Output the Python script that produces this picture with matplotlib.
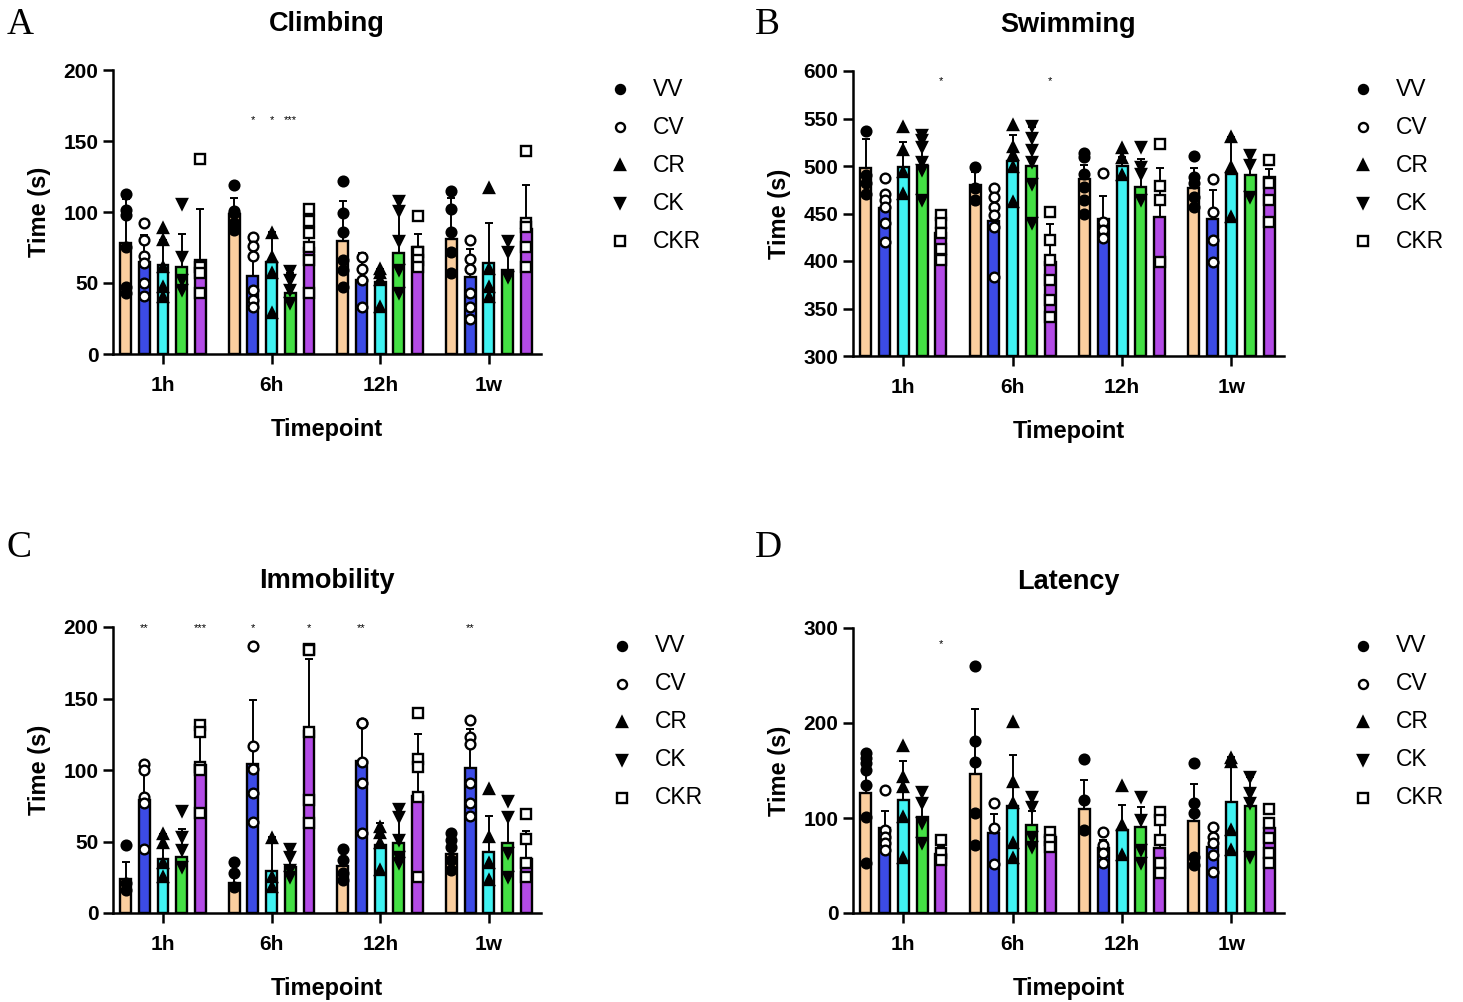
import numpy as np
import matplotlib
matplotlib.use("Agg")
import matplotlib.pyplot as plt
from matplotlib.lines import Line2D

plt.rcParams['font.family'] = ['Liberation Sans', 'DejaVu Sans']

timepoints = ['1h', '6h', '12h', '1w']
groups = ['VV', 'CV', 'CR', 'CK', 'CKR']
colors = ['#FACE9E', '#3C4BE6', '#40F2F2', '#44E044', '#B34BE6']
markers = ['o', 'o', '^', 'v', 's']
filled = [True, False, True, True, False]

# ---- Climbing ----
climb_mean = [[78, 64.5, 63, 61, 66], [98.6, 55, 64.5, 43, 75],
              [79.6, 52, 51, 71, 75.6], [81, 54, 64, 59, 88]]
climb_sd = [[31, 19.5, 17, 23.5, 36], [11.4, 24, 21.5, 14, 25],
            [28.4, 19, 9, 33, 9], [29, 20, 28, 14, 31]]
climb_pts = [
    [[112.7, 101.4, 98, 75.6, 47.4, 42.7], [92, 80, 69, 64, 50, 41], [88.5, 80, 61.5, 47, 40],
     [105.6, 68.5, 52, 45], [137, 61.5, 57, 43]],
    [[119, 101, 99, 92, 87], [82.6, 76, 69, 45, 38, 33], [85, 68.5, 57, 28.6],
     [58.7, 52, 45, 35.7], [102, 94, 85.4, 75.6, 66, 43]],
    [[122, 99.5, 86, 66, 59, 47], [68.5, 59.6, 52, 33.3], [60, 57, 52, 33],
     [108, 101, 79.6, 59, 42.7], [97, 72, 66, 61.5]],
    [[115, 102, 86, 72, 57], [80, 66.7, 59.6, 42.7, 33.3, 25], [117, 60, 47, 40],
     [79.6, 72, 54.5], [143, 92.5, 89.7, 75.6, 61.5]],
]
climb_stars = [(1, 1, '*'), (1, 2, '*'), (1, 3, '***')]
climb_star_y = 165

# ---- Swimming ----
swim_mean = [[497.5, 455.5, 499, 500, 429], [479.6, 442.5, 505.6, 500, 399.3],
             [486, 444, 500, 478, 446.7], [477, 444, 492, 491, 488.8]]
swim_sd = [[31, 15, 26.6, 34, 20], [14, 27, 27, 41, 39.7],
           [14.7, 24.4, 10, 29, 50.8], [20.5, 30.7, 39, 13.6, 8]]
swim_pts = [
    [[537, 490.5, 482, 471], [487, 470.5, 464, 457, 439.6, 420], [541.4, 517, 494, 471],
     [532.6, 527, 520, 504.6, 496, 464], [448.4, 439.6, 429, 413, 401]],
    [[498.6, 476.5, 464], [476.5, 467.7, 457, 448.4, 436, 383.5], [543, 519.6, 511.6, 499, 462.5],
     [542, 529, 516.8, 504.6, 481, 439.6], [452, 422, 401, 380, 359, 341.4]],
    [[514, 509.8, 492, 478, 464, 450], [493, 441.4, 432.6, 424], [518.6, 508, 490.5],
     [519.6, 499, 492, 464], [523, 479, 464, 399]],
    [[510.5, 488, 482.5, 467.7, 457], [486, 452, 422, 398.6], [531, 499, 446.7],
     [511.6, 501, 467.7], [506, 481.8, 464, 441]],
]
swim_stars = [(0, 4, '*'), (1, 4, '*')]
swim_star_y = 589

# ---- Immobility ----
immob_mean = [[24, 79, 37.5, 39, 103.5], [21, 104, 29.6, 32.4, 127],
              [33, 106, 47.8, 49, 82], [41, 101.4, 42.7, 48.7, 38]]
immob_sd = [[12, 20, 18, 19.7, 26.5], [12, 45, 23.8, 13.6, 50.4],
            [10, 26.6, 15, 19.5, 43], [11, 27.6, 25, 20.3, 19]]
immob_pts = [
    [[47.8, 21, 16], [104, 100, 81, 76.7, 45], [55, 48.7, 34.7, 25.4],
     [71, 53, 44, 32], [131.5, 126.8, 102, 100, 69.7]],
    [[36, 27.7, 18.4], [186.7, 116.8, 101, 83.7, 63.9], [52.7, 25.4, 18.4],
     [45, 39, 30, 25.4], [184.4, 184, 126.8, 79, 62.7]],
    [[44.5, 37, 27.7, 23], [133, 132.6, 105.8, 91, 55.7], [60.4, 55.7, 48.7, 30],
     [72.5, 67.4, 51, 39.4, 34.7], [140, 108, 101.9, 81.4, 25.4]],
    [[56, 51, 46, 37, 30], [135, 123, 118, 90.7, 76.7, 67.8], [87, 53.4, 34.7, 23],
     [78, 67.4, 41.7, 25.4], [69, 51.5, 34.7, 25.4]],
]
immob_stars = [(0, 1, '**'), (0, 4, '***'), (1, 1, '*'), (1, 4, '*'), (2, 1, '**'), (3, 1, '**')]
immob_star_y = 199

# ---- Latency ----
lat_mean = [[126, 89, 119, 100.7, 62], [146, 84.6, 112.6, 92.6, 80],
            [110, 68, 87.4, 91, 68], [97, 69, 117, 112.6, 90]]
lat_sd = [[43, 18, 41, 20, 8], [69, 20, 53.4, 15, 5],
          [30, 9, 26.3, 21, 33], [38.4, 11, 47.6, 31, 8]]
lat_pts = [
    [[168, 163, 157.5, 150.5, 134.7, 101.4, 52.3], [129.5, 87.4, 80.4, 73.3, 66.3],
     [175.8, 143.5, 133, 101.4, 57.5], [127.7, 115.4, 94.4, 73.3], [76.8, 62.8, 55.8]],
    [[260, 181.4, 159.3, 105, 71.6], [115.4, 89, 51.6], [201.4, 138, 115.4, 73.3, 57.5],
     [122.5, 112, 80.4, 70], [85.6, 76.8, 70]],
    [[161.8, 119, 87.4], [85.6, 71.6, 62.8, 52.3], [133.7, 92.6, 61],
     [122.5, 98, 66.3, 52.3], [106.7, 98, 76.8, 52.3, 41.8]],
    [[157.5, 115.4, 105, 59.3, 50.5], [91, 80.4, 73.3, 61, 43.5], [162.8, 159.3, 87.4, 66.3],
     [143.5, 126, 115.4, 59.3], [110, 94.4, 78.6, 62.8, 52.3]],
]
lat_stars = [(0, 4, '*')]
lat_star_y = 283

W, H = 1463, 1002
fig = plt.figure(figsize=(W / 100, H / 100), dpi=100)

offs = (np.arange(5) - 2) * 0.172
bw = 0.10


def panel(rect, title, mean, sd, pts, stars, star_y, ylim, yticks, letter, lpos, legpos):
    l, t, r, b = rect
    ax = fig.add_axes([l / W, 1 - b / H, (r - l) / W, (b - t) / H])
    base = ylim[0]
    for ti in range(4):
        for gi in range(5):
            x = ti + offs[gi]
            m = mean[ti][gi]
            ax.bar(x, m - base, bottom=base, width=bw, color=colors[gi],
                   edgecolor='black', linewidth=1.7, zorder=2)
            ax.errorbar(x, m, yerr=[[0], [sd[ti][gi]]], fmt='none', ecolor='black',
                        elinewidth=1.4, capsize=3, capthick=1.4, zorder=3)
            p = pts[ti][gi]
            ax.plot([x] * len(p), p, linestyle='none', marker=markers[gi], ms=7,
                    mfc='black' if filled[gi] else 'white', mec='black', mew=1.7,
                    zorder=4, clip_on=False)
    for ti, gi, s in stars:
        ax.text(ti + offs[gi], star_y, s, ha='center', va='center', fontsize=8, clip_on=False)
    ax.set_xlim(-0.46, 3.48)
    ax.set_ylim(*ylim)
    ax.set_yticks(yticks)
    ax.set_xticks(range(4))
    ax.set_xticklabels(timepoints)
    for s in ['top', 'right']:
        ax.spines[s].set_visible(False)
    for s in ['left', 'bottom']:
        ax.spines[s].set_linewidth(1.8)
    ax.tick_params(width=1.8, length=7.5, labelsize=15)
    ax.tick_params(axis='x', pad=8)
    ax.tick_params(axis='y', pad=3)
    for lab in ax.get_xticklabels() + ax.get_yticklabels():
        lab.set_fontweight('bold')
    ax.set_title(title, fontsize=19.5, fontweight='bold', pad=28)
    ax.set_ylabel('Time (s)', fontsize=17, fontweight='bold', labelpad=9)
    ax.set_xlabel('Timepoint', fontsize=17, fontweight='bold', labelpad=17)
    fig.text(lpos[0] / W, 1 - lpos[1] / H, letter, fontsize=27, family='Liberation Serif',
             ha='left', va='center')
    mx, tx, y0 = legpos
    for gi, g in enumerate(groups):
        y = 1 - (y0 + gi * 38) / H
        fig.add_artist(Line2D([mx / W], [y], marker=markers[gi], ms=6.5, linestyle='none',
                              mfc='black' if filled[gi] else 'white', mec='black', mew=1.7,
                              transform=fig.transFigure))
        fig.text(tx / W, y, g, fontsize=16.5, ha='left', va='center')
    return ax


panel((113, 70, 541, 354), 'Climbing', climb_mean, climb_sd, climb_pts, climb_stars,
      climb_star_y, (0, 200), [0, 50, 100, 150, 200], 'A', (7, 25), (620, 653, 89))
panel((853, 71, 1284, 356), 'Swimming', swim_mean, swim_sd, swim_pts, swim_stars,
      swim_star_y, (300, 600), [300, 350, 400, 450, 500, 550, 600], 'B', (755, 25), (1363, 1396, 89))
panel((113, 627, 541, 913), 'Immobility', immob_mean, immob_sd, immob_pts, immob_stars,
      immob_star_y, (0, 200), [0, 50, 100, 150, 200], 'C', (7, 548), (622, 655, 646))
panel((853, 628, 1284, 913), 'Latency', lat_mean, lat_sd, lat_pts, lat_stars,
      lat_star_y, (0, 300), [0, 100, 200, 300], 'D', (755, 548), (1363, 1396, 646))

fig.savefig('out.png', dpi=100)
